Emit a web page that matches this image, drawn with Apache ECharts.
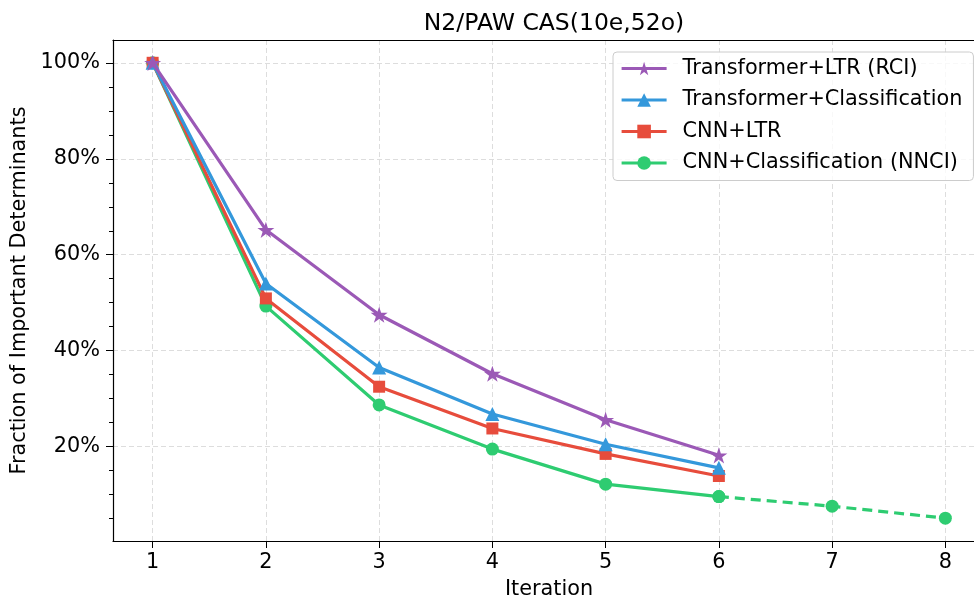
<!DOCTYPE html>
<html>
<head>
<meta charset="utf-8">
<script src="https://cdn.jsdelivr.net/npm/echarts@6/dist/echarts.min.js"></script>
<style>
  html, body { margin: 0; padding: 0; background: #fff; }
  #chart { width: 974px; height: 599px; }
</style>
</head>
<body>
<div id="chart"></div>
<script>
  let iterations = [1, 2, 3, 4, 5, 6];
  let extIterations = [6, 7, 8];
  let transLtr = [100, 65.2, 47.5, 35.2, 25.6, 18.2];
  let transCls = [100, 54.0, 36.5, 26.8, 20.5, 15.6];
  let cnnLtr = [100, 50.9, 32.5, 23.8, 18.5, 13.9];
  let cnnCls = [100, 49.3, 28.7, 19.5, 12.2, 9.6];
  let cnnClsExt = [9.6, 7.6, 5.1];
  let xTicks = [1, 2, 3, 4, 5, 6, 7, 8];
  let yTicks = [20, 40, 60, 80, 100];
  let yMinorTicks = [5, 10, 15, 25, 30, 35, 45, 50, 55, 65, 70, 75, 85, 90, 95];

  let starPath = "path://M100,0 L122.45,69.1 L195.11,69.1 L136.33,111.8 L158.78,180.9 L100,138.2 L41.22,180.9 L63.67,111.8 L4.89,69.1 L77.55,69.1 Z";
  let font = "DejaVu Sans";
  let fs = 20.8;

  function pairs(xs, ys) {
    return xs.map(function (x, i) { return [x, ys[i]]; });
  }

  let option = {
    animation: false,
    title: {
      text: "N2/PAW CAS(10e,52o)",
      left: 549,
      top: 7,
      textAlign: "center",
      textStyle: { fontFamily: font, fontSize: 23.5, fontWeight: "normal", color: "#000" }
    },
    legend: {
      orient: "vertical",
      left: 613,
      top: 52,
      padding: [6, 11, 7, 7],
      itemGap: 10.5,
      itemWidth: 45,
      itemHeight: 17,
      backgroundColor: "rgba(255,255,255,0.8)",
      borderColor: "#cccccc",
      borderWidth: 1,
      borderRadius: 4,
      lineStyle: { width: 3.2 },
      textStyle: { fontFamily: font, fontSize: fs, color: "#000", padding: [0, 0, 0, 11] },
      data: ["Transformer+LTR (RCI)", "Transformer+Classification", "CNN+LTR", "CNN+Classification (NNCI)"]
    },
    grid: {
      left: 113,
      top: 40,
      width: 872,
      height: 501,
      outerBoundsMode: "none",
      containLabel: false
    },
    xAxis: [
      {
        type: "value",
        min: 0.65,
        max: 8.35,
        name: "Iteration",
        nameLocation: "middle",
        nameGap: 38,
        nameTextStyle: { fontFamily: font, fontSize: fs, color: "#000" },
        axisLine: { show: true, onZero: false, lineStyle: { color: "#000", width: 1.2 } },
        axisTick: { show: true, length: 7, lineStyle: { color: "#000" }, customValues: xTicks },
        axisLabel: { fontFamily: font, fontSize: fs, color: "#000", margin: 11, customValues: xTicks },
        splitLine: { show: true, lineStyle: { color: "#dddddd", type: [5, 3], width: 1 } }
      },
      {
        type: "value",
        position: "top",
        min: 0.65,
        max: 8.35,
        axisLine: { show: true, onZero: false, lineStyle: { color: "#000", width: 1.2 } },
        axisTick: { show: false },
        axisLabel: { show: false },
        splitLine: { show: false }
      }
    ],
    yAxis: [
      {
        type: "value",
        min: 0.35,
        max: 104.75,
        name: "Fraction of Important Determinants",
        nameLocation: "middle",
        nameGap: 79,
        nameTextStyle: { fontFamily: font, fontSize: fs, color: "#000" },
        axisLine: { show: true, onZero: false, lineStyle: { color: "#000", width: 1.2 } },
        axisTick: { show: true, length: 7, lineStyle: { color: "#000" }, customValues: yTicks },
        axisLabel: {
          fontFamily: font, fontSize: fs, color: "#000", margin: 13, customValues: yTicks,
          formatter: function (v) { return v + "%"; }
        },
        splitLine: { show: true, lineStyle: { color: "#dddddd", type: [5, 3], width: 1 } }
      },
      {
        type: "value",
        position: "left",
        min: 0.35,
        max: 104.75,
        axisLine: { show: false, onZero: false },
        axisTick: { show: true, length: 4, lineStyle: { color: "#000" }, customValues: yMinorTicks },
        axisLabel: { show: false },
        splitLine: { show: false }
      }
    ],
    series: [
      {
        name: "CNN+Classification (NNCI)",
        type: "line",
        data: pairs(iterations, cnnCls),
        color: "#2ecc71",
        symbol: "circle",
        symbolSize: 13,
        lineStyle: { width: 3.2 },
        z: 2
      },
      {
        name: "CNN+Classification (NNCI) projected",
        type: "line",
        data: pairs(extIterations, cnnClsExt),
        color: "#2ecc71",
        symbol: "circle",
        symbolSize: 13,
        lineStyle: { width: 3.2, type: [10, 6] },
        z: 2
      },
      {
        name: "CNN+LTR",
        type: "line",
        data: pairs(iterations, cnnLtr),
        color: "#e74c3c",
        symbol: "rect",
        symbolSize: 12,
        lineStyle: { width: 3.2 },
        z: 3
      },
      {
        name: "Transformer+Classification",
        type: "line",
        data: pairs(iterations, transCls),
        color: "#3498db",
        symbol: "triangle",
        symbolSize: 14,
        lineStyle: { width: 3.2 },
        z: 4
      },
      {
        name: "Transformer+LTR (RCI)",
        type: "line",
        data: pairs(iterations, transLtr),
        color: "#9b59b6",
        symbol: starPath,
        symbolKeepAspect: true,
        symbolSize: 17,
        lineStyle: { width: 3.2 },
        z: 5
      }
    ]
  };

  var myChart = echarts.init(document.getElementById("chart"));
  myChart.setOption(option);
</script>
</body>
</html>
